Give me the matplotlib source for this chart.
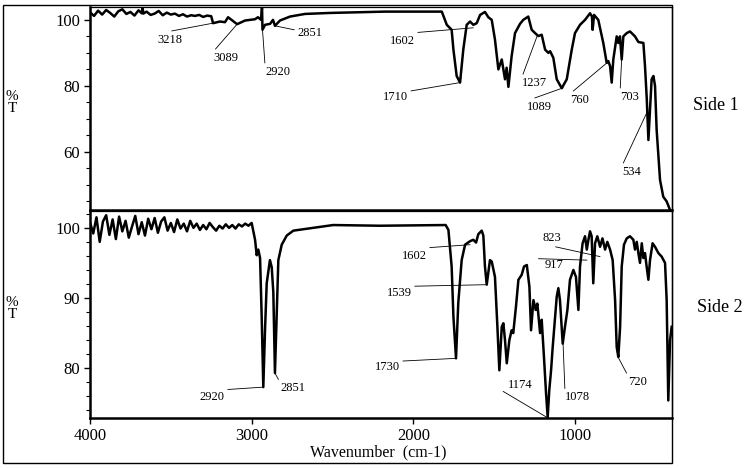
import numpy as np
import matplotlib.pyplot as plt
from matplotlib.patches import Rectangle
from matplotlib.ticker import MultipleLocator

plt.rcParams['font.family'] = ['Liberation Serif', 'DejaVu Serif']

# Side 1 spectrum: wavenumber (cm-1), %T
wn1 = [4000, 3975, 3950, 3925, 3900, 3875, 3850, 3825, 3800, 3775, 3750, 3725,
       3700, 3680, 3675, 3670, 3650, 3625, 3600, 3575, 3550, 3525, 3500, 3475,
       3450, 3425, 3400, 3375, 3350, 3325, 3300, 3275, 3250,
       3239, 3196, 3165, 3146, 3090, 3041, 2979, 2961, 2942, 2936, 2933, 2917,
       2886, 2868, 2856, 2825, 2763, 2670, 2515, 2175,
       1824, 1793, 1773, 1763, 1752, 1732, 1711, 1691, 1670, 1649, 1629, 1608,
       1587, 1557, 1536, 1515, 1495, 1474, 1453, 1433, 1423, 1412, 1392, 1371,
       1340, 1320, 1289, 1268, 1247, 1227, 1206, 1185, 1165, 1154, 1134, 1113,
       1082, 1051, 1020, 1000, 969, 938, 907, 895, 891, 882, 856, 825, 804, 794,
       783, 773, 763, 742, 732, 722, 711, 701, 680, 660, 629, 608, 577, 567,
       556, 546, 536, 526, 515, 505, 495, 474, 454, 433, 412, 402]
t1 = [102.3, 101.2, 102.8, 101.6, 103.0, 102.1, 101.0, 102.6, 103.2, 101.8, 102.4, 101.3,
      102.9, 102.0, 103.8, 101.9, 102.5, 101.5, 101.9, 102.7, 101.4, 102.2, 101.6, 101.9,
      101.2, 101.7, 101.0, 101.4, 101.2, 101.5, 100.9, 101.3, 101.1,
      99.0, 99.5, 99.3, 100.8, 98.7, 99.8, 100.2, 100.8, 100.0, 104.0, 97.0, 98.5,
      98.8, 100.0, 98.2, 99.8, 101.0, 101.8, 102.1, 102.5,
      102.5, 98.5, 97.5, 97.0, 91.0, 83.0, 81.0, 91.0, 98.5, 99.5, 98.5, 99.0,
      101.5, 102.4, 100.8, 100.0, 94.0, 85.0, 88.0, 82.0, 85.5, 79.7, 89.0, 96.0,
      98.8, 100.0, 101.0, 97.0, 96.0, 95.1, 95.5, 91.0, 90.0, 90.5, 88.5, 82.0,
      79.3, 82.0, 91.0, 96.0, 98.5, 100.0, 102.0, 101.0, 97.0, 101.5, 100.0, 93.0, 87.0, 87.5,
      86.0, 81.0, 88.0, 95.0, 93.0, 95.0, 88.0, 95.0, 96.0, 96.5, 95.0, 93.3, 93.0, 86.0,
      76.0, 63.6, 72.7, 82.0, 83.0, 80.0, 66.7, 51.5, 46.4, 45.0, 42.4, 42.0]

# Side 2 spectrum
wn2 = [4000, 3980, 3960, 3940, 3920, 3900, 3880, 3860, 3840, 3820, 3800, 3780,
       3760, 3740, 3720, 3700, 3680, 3660, 3640, 3620, 3600, 3580, 3560, 3540,
       3520, 3500, 3480, 3460, 3440, 3420, 3400, 3380, 3360, 3340, 3320, 3300,
       3280, 3260, 3240, 3220, 3200, 3180, 3160, 3140, 3120, 3100, 3080, 3060,
       3040, 3020, 3000,
       2979, 2969, 2959, 2948, 2938, 2928, 2917, 2907, 2887, 2876, 2866, 2856,
       2845, 2835, 2814, 2783, 2742, 2619, 2496, 2206, 1800, 1783,
       1763, 1752, 1736, 1722, 1701, 1680, 1649, 1629, 1612, 1598, 1577, 1567,
       1557, 1546, 1526, 1515, 1495, 1480, 1468, 1453, 1443, 1433, 1422, 1406,
       1392, 1382, 1365, 1350, 1330, 1315, 1298, 1282, 1272, 1257, 1243, 1233,
       1216, 1206, 1192, 1179, 1169, 1159, 1148, 1138, 1128, 1113, 1103, 1093,
       1076, 1062, 1047, 1031, 1010, 994, 979, 969, 953, 938, 927, 917, 907,
       897, 887, 876, 862, 845, 830, 814, 800, 783, 767, 752, 742, 732, 721,
       711, 697, 680, 660, 639, 629, 618, 608, 598, 587, 577, 567, 557, 546,
       536, 520, 505, 484, 464, 443, 433, 423, 412, 402]
t2 = [100.8, 99.2, 101.5, 98.0, 100.9, 101.8, 99.0, 101.2, 98.4, 101.6, 99.5, 101.0,
      98.6, 100.2, 101.7, 99.1, 100.8, 98.9, 101.3, 99.8, 101.4, 99.3, 100.9, 101.5,
      99.6, 100.7, 99.4, 101.2, 99.9, 100.6, 99.5, 101.0, 100.0, 100.6, 99.7, 100.4,
      99.8, 100.7, 100.1, 99.6, 100.3, 99.9, 100.5, 100.0, 100.4, 99.9, 100.5, 100.2,
      100.6, 100.3, 100.7,
      98.3, 96.1, 96.9, 95.7, 87.3, 77.3, 85.7, 92.1, 95.4, 94.4, 90.8, 79.3,
      87.9, 95.4, 97.6, 98.9, 99.6, 100.0, 100.4, 100.3, 100.4, 99.7,
      94.5, 87.3, 81.4, 89.3, 95.4, 97.6, 98.1, 98.3, 97.9, 99.1, 99.6, 98.9,
      94.5, 91.9, 95.4, 95.2, 93.0, 85.9, 79.7, 85.9, 86.4, 84.0, 80.7, 84.0,
      85.4, 85.0, 88.8, 92.6, 93.3, 94.5, 94.7, 91.6, 85.4, 89.7, 88.3, 89.2,
      85.0, 86.9, 81.6, 76.4, 73.0, 76.9, 79.7, 83.0, 85.9, 90.2, 91.4, 89.7,
      83.5, 85.9, 88.3, 92.6, 94.0, 93.0, 88.3, 94.5, 97.8, 98.8, 96.9, 98.3, 99.5,
      98.8, 92.1, 97.8, 98.8, 97.3, 98.5, 96.9, 98.0, 96.9, 95.4, 89.7, 83.0, 81.6, 85.9,
      94.5, 97.6, 98.5, 98.8, 98.3, 96.9, 98.0, 96.4, 95.0, 97.8, 95.7, 96.4, 94.5, 92.6,
      95.4, 97.8, 97.3, 96.4, 95.9, 95.0, 89.7, 75.4, 84.0, 85.9]

# leader lines: label, peak point (wn, %T), label corner (wn, %T), line start on label
notes1 = [('3218', (3239, 99.0), (3586, 95.8), (0, 1)),
          ('3089', (3090, 98.7), (3239, 90.3), (0, 1)),
          ('2920', (2933, 97.0), (2917, 86.1), (0, 1)),
          ('2851', (2856, 98.2), (2719, 97.9), (0, 0.7)),
          ('1602', (1629, 97.6), (2144, 95.5), (0, 1)),
          ('1710', (1711, 81.0), (2187, 78.5), (0, 0.6)),
          ('1237', (1235, 95.0), (1328, 82.7), (0, 1)),
          ('1089', (1074, 79.4), (1297, 75.5), (0, 1)),
          ('760', (802, 87.0), (1031, 77.6), (0, 1)),
          ('703', (709, 90.5), (721, 78.5), (0, 1)),
          ('534', (548, 72.7), (709, 55.8), (0, 1))]
notes2 = [('2920', (2928, 77.3), (3320, 76.7), (0, 1)),
          ('2851', (2856, 79.3), (2825, 78.0), (0, 1)),
          ('1602', (1649, 97.6), (2070, 96.9), (0, 1)),
          ('1539', (1544, 91.9), (2163, 91.6), (0, 1)),
          ('1730', (1736, 81.4), (2237, 81.0), (1, 1)),
          ('1174', (1167, 72.9), (1414, 78.4), (-0.2, 0)),
          ('1078', (1074, 83.6), (1062, 76.7), (0, 1)),
          ('917', (926, 95.4), (1185, 95.6), (-0.35, 1)),
          ('823', (845, 95.9), (1198, 99.4), (0, 0)),
          ('720', (734, 81.6), (672, 78.9), (0, 1))]

fig = plt.figure(figsize=(7.51, 4.68), dpi=100)
ax1 = fig.add_axes([90/751, 1 - 210/468, 582/751, 203/468])
ax2 = fig.add_axes([90/751, 1 - 418/468, 582/751, 207/468])

ax1.plot(wn1, t1, color='k', lw=1.8)
ax2.plot(wn2, t2, color='k', lw=1.8)

for ax, notes in ((ax1, notes1), (ax2, notes2)):
    for lbl, xy, xyt, rp in notes:
        ax.annotate(lbl, xy=xy, xytext=xyt, ha='left', va='top', fontsize=9,
                    arrowprops=dict(arrowstyle='-', lw=0.6, color='k',
                                    shrinkA=0, shrinkB=0, relpos=rp))

ax1.set_xlim(4000, 400)
ax2.set_xlim(4000, 400)
ax1.set_ylim(42.4, 103.9)
ax2.set_ylim(72.9, 102.4)
ax1.set_yticks([60, 80, 100])
ax2.set_yticks([80, 90, 100])
ax1.yaxis.set_minor_locator(MultipleLocator(5))
ax2.yaxis.set_minor_locator(MultipleLocator(2))
ax1.set_xticks([])
ax2.set_xticks([4000, 3000, 2000, 1000])

for ax in (ax1, ax2):
    ax.tick_params(axis='both', which='major', direction='out', length=4, width=1,
                   labelsize=12, pad=3)
    ax.tick_params(axis='y', which='minor', direction='out', length=3, width=0.8)
    for s in ('top', 'right'):
        ax.spines[s].set_linewidth(0.9)
    for s in ('left', 'bottom'):
        ax.spines[s].set_linewidth(1.8)

fig.text(12/751, 1 - 97/468, '%', fontsize=11, ha='center', va='center')
fig.text(12/751, 1 - 109/468, 'T', fontsize=11, ha='center', va='center')
fig.text(12/751, 1 - 303/468, '%', fontsize=11, ha='center', va='center')
fig.text(12/751, 1 - 315/468, 'T', fontsize=11, ha='center', va='center')
fig.text(716/751, 1 - 105/468, 'Side 1', fontsize=13, ha='center', va='center')
fig.text(720/751, 1 - 307/468, 'Side 2', fontsize=13, ha='center', va='center')
fig.text(378/751, 1 - 452/468, 'Wavenumber  (cm-1)', fontsize=11.5, ha='center', va='center')

fig.add_artist(Rectangle((3/751, 1 - 463/468), 669/751, 458/468, transform=fig.transFigure,
                         fill=False, lw=1, color='k'))

fig.savefig('out.png', dpi=100)
